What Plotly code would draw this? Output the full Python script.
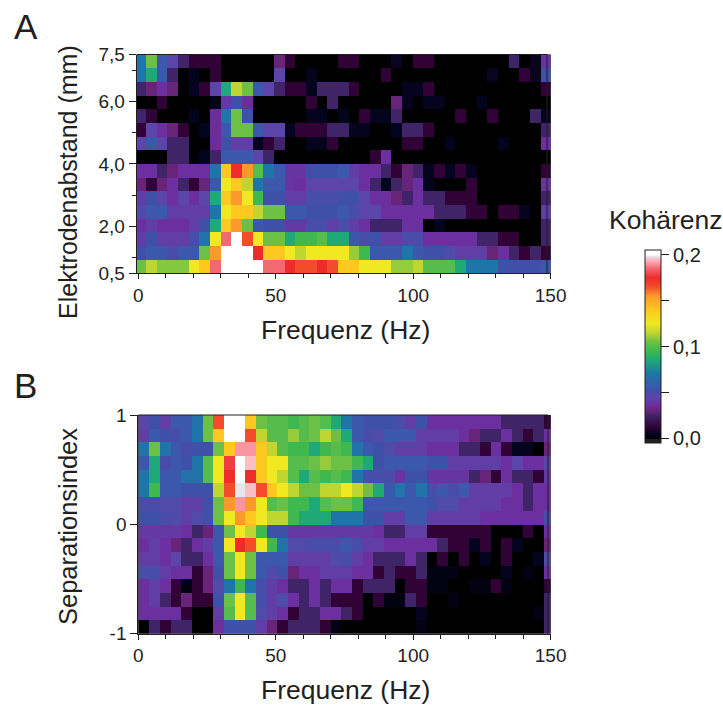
import plotly.graph_objects as go
from plotly.subplots import make_subplots

W, H = 723, 705
INK = "#231f20"
FONT = "Liberation Sans, Arial, sans-serif"

# Coherence x 1000, rows listed from top to bottom, columns from low to high frequency
panel_a = [
 [70,105,55,45,25,12,12,12,0,0,0,0,0,30,12,0,0,0,0,12,12,0,0,0,6,0,12,12,0,0,0,0,0,0,0,25,0,6,38],
 [70,85,55,25,0,5,0,12,0,0,0,0,0,45,0,0,5,0,0,0,0,0,0,12,0,0,0,0,0,0,0,0,0,6,0,0,12,6,52],
 [25,30,36,30,0,5,12,45,85,115,105,55,45,25,12,12,5,25,25,25,12,0,0,0,0,5,5,12,0,0,0,0,0,0,0,0,0,0,12],
 [0,0,12,0,0,0,0,5,40,52,35,0,0,0,0,0,12,0,25,0,0,0,0,0,30,5,0,5,5,0,0,0,5,0,0,0,0,0,0],
 [25,12,0,0,0,5,0,35,70,105,52,0,0,0,0,0,5,5,0,5,0,12,5,5,25,0,0,0,0,0,12,0,0,12,0,0,0,25,5],
 [12,45,36,30,12,0,5,35,55,105,105,55,45,45,5,12,12,12,25,25,5,5,0,0,5,25,25,12,0,0,0,0,0,0,0,0,0,0,25],
 [45,55,45,25,25,0,0,35,52,42,42,5,12,25,0,0,5,5,12,0,0,0,0,0,0,12,12,0,0,5,0,0,0,0,5,0,0,0,36],
 [0,0,0,25,25,0,5,25,55,55,55,45,25,0,0,0,0,0,0,0,0,0,12,36,0,0,0,0,0,0,0,0,0,0,0,0,0,0,0],
 [36,36,25,30,36,36,36,70,140,175,155,100,70,55,38,38,52,52,52,55,42,36,36,25,12,30,25,5,12,5,12,5,0,0,0,0,0,0,12],
 [30,12,30,36,25,12,30,55,125,140,115,70,55,55,38,36,45,45,45,45,45,36,25,5,25,30,36,5,0,0,0,12,0,0,0,0,0,0,38],
 [42,52,45,36,45,36,45,85,140,155,125,95,52,52,42,42,50,50,50,52,52,45,36,36,30,25,36,25,25,12,12,12,0,0,0,0,0,0,25],
 [48,55,55,42,42,42,42,70,125,140,140,115,105,105,55,55,52,52,52,55,50,45,45,36,36,36,36,36,25,25,25,12,12,0,12,12,5,0,42],
 [36,42,36,36,36,42,52,85,140,155,105,55,52,52,40,40,50,50,42,50,42,36,25,25,25,36,36,0,5,0,0,0,0,0,0,0,0,0,25],
 [42,52,42,42,42,50,70,125,185,200,165,125,105,105,85,95,95,100,85,85,55,50,52,42,42,50,50,36,36,36,36,36,25,25,12,12,0,0,25],
 [52,55,55,50,55,55,105,155,200,200,200,175,140,140,125,115,125,125,125,125,110,95,55,55,55,70,55,52,52,48,42,42,42,30,36,25,12,25,12],
 [105,115,108,108,108,125,140,185,200,200,200,200,185,185,175,165,165,175,165,140,140,125,125,125,110,110,115,100,100,100,85,70,70,70,52,52,52,52,55],
]
panel_b = [
 [45,52,42,55,55,68,105,165,200,200,140,105,100,100,95,100,105,100,85,70,55,52,52,52,50,42,52,36,36,36,36,36,36,36,25,25,25,25,12],
 [42,55,52,50,55,70,105,140,200,200,165,115,100,100,110,100,105,115,105,85,55,50,48,55,55,55,42,42,42,42,36,30,25,25,36,25,12,25,36],
 [70,105,70,55,50,52,52,105,140,190,190,140,115,100,95,95,85,95,100,95,70,55,52,48,42,42,42,36,36,36,25,25,12,36,12,5,5,0,30],
 [55,85,50,55,52,70,100,125,178,200,195,140,125,125,100,100,105,110,105,105,95,85,52,55,55,55,55,52,52,42,42,42,42,42,36,45,36,36,45],
 [70,85,55,55,68,68,100,125,175,200,175,140,125,115,100,85,100,95,100,95,70,50,50,50,38,52,52,38,38,38,38,25,30,12,36,25,25,12,40],
 [70,95,55,55,52,52,52,115,165,198,195,165,140,125,115,105,105,115,115,125,115,105,85,55,70,55,70,50,55,50,55,42,42,42,42,36,25,36,36],
 [50,50,48,48,42,42,52,105,155,190,155,125,100,105,95,95,85,100,105,105,95,55,55,55,55,55,55,52,48,48,42,42,42,42,36,36,25,36,36],
 [52,52,50,48,42,48,52,105,125,155,140,125,115,115,95,85,85,85,70,70,70,52,52,42,42,55,55,42,42,42,42,42,36,36,36,36,36,36,50],
 [40,40,40,40,36,25,30,55,105,125,115,95,52,52,40,40,40,40,40,40,40,40,36,25,25,42,42,12,12,12,12,12,12,0,0,0,12,0,36],
 [36,42,36,30,25,36,42,55,125,175,165,125,95,70,48,48,50,50,50,55,50,42,42,36,36,36,36,36,25,12,12,5,12,0,12,5,0,0,30],
 [42,42,36,45,25,25,36,55,105,125,105,55,55,55,42,42,42,42,48,50,42,36,25,25,25,36,25,0,12,0,12,0,5,0,12,0,0,5,48],
 [50,50,42,36,36,12,30,52,105,125,105,55,48,52,30,36,36,42,42,42,36,36,12,25,12,12,25,3,3,3,0,0,0,0,5,0,3,0,36],
 [36,42,36,12,3,12,30,48,70,95,70,50,42,36,25,25,36,25,36,36,12,25,25,25,0,12,12,3,3,0,0,3,3,12,3,0,0,0,12],
 [36,42,25,12,30,12,12,52,105,125,100,50,42,48,36,25,36,25,12,12,12,0,12,3,3,25,12,0,0,3,0,0,0,0,0,0,0,0,25],
 [36,36,36,36,12,0,0,42,100,125,100,48,42,36,12,25,25,36,36,25,12,0,0,0,0,0,5,0,0,0,0,0,0,0,0,0,0,3,25],
 [0,25,12,25,25,0,0,36,52,52,52,42,30,12,25,25,25,12,3,0,0,0,0,0,0,0,3,0,0,0,0,0,0,0,0,0,0,0,25],
]
freq_ticks = [0, 50, 100, 150]
freq_minor = [10, 20, 30, 40, 60, 70, 80, 90, 110, 120, 130, 140]
dist_ticks = [0.5, 2, 4, 6, 7.5]
dist_labels = ["0,5", "2,0", "4,0", "6,0", "7,5"]
dist_minor = [1, 3, 5, 7]
sep_ticks = [-1, 0, 1]
scale_ticks = [0, 50, 100, 150, 200]
scale_labels = ["0,0", "", "0,1", "", "0,2"]
color_stops = [
 (-5, "#231f20"), (-1, "#231f20"), (0, "#000000"), (5, "#04041e"), (12, "#300236"),
 (25, "#3f2468"), (30, "#682478"), (36, "#6b2fa0"), (45, "#5c45a8"), (52, "#3f50a8"),
 (55, "#3b58ac"), (70, "#1f75a8"), (85, "#1fa878"), (95, "#3fb850"), (105, "#6cc045"),
 (115, "#c0d630"), (125, "#f0e820"), (140, "#ffc820"), (155, "#fb9a2a"), (165, "#f24c2c"),
 (175, "#ee2c2c"), (185, "#f4686f"), (190, "#f8959f"), (195, "#fabfc5"), (198, "#e8e8ec"),
 (200, "#ffffff"), (205, "#ffffff"),
]
cmin, cmax = -5, 205
colorscale = [[(v - cmin) / (cmax - cmin), c] for v, c in color_stops]

for r in panel_a + panel_b:
    assert len(r) == 39

fig = make_subplots(rows=2, cols=1)
fig.add_trace(go.Heatmap(z=panel_a[::-1], x0=0.85, dx=3.88, y0=0.5 + 7 / 32, dy=7 / 16,
                         coloraxis="coloraxis", hovertemplate="%{x:.0f} Hz, %{y:.1f} mm: %{z}<extra></extra>"), 1, 1)
fig.add_trace(go.Heatmap(z=panel_b[::-1], x0=2.07, dx=3.88, y0=-1 + 1 / 16, dy=1 / 8,
                         coloraxis="coloraxis", hovertemplate="%{x:.0f} Hz, %{y:.2f}: %{z}<extra></extra>"), 2, 1)

tickfont = dict(family=FONT, size=19, color=INK)
minor_x = dict(tickmode="array", tickvals=freq_minor, ticklen=4, tickcolor=INK, ticks="outside", tickwidth=1)
common_x = dict(tickmode="array", tickvals=freq_ticks, ticks="outside", ticklen=5, tickwidth=1, tickcolor=INK,
                tickfont=tickfont, showline=True, linecolor=INK, linewidth=1, showgrid=False, zeroline=False,
                automargin=False, minor=minor_x)
common_y = dict(tickmode="array", ticks="outside", ticklen=7, tickwidth=1, tickcolor=INK, tickfont=tickfont,
                showline=True, linecolor=INK, linewidth=1, showgrid=False, zeroline=False, automargin=False)

fig.update_xaxes(common_x)
fig.update_yaxes(common_y)
fig.update_xaxes(domain=[136.7 / W, 550.6 / W], range=[-0.58, 150], row=1, col=1)
fig.update_xaxes(domain=[138.3 / W, 550.6 / W], range=[0, 150], row=2, col=1)
fig.update_yaxes(domain=[1 - 273.3 / H, 1 - 54.5 / H], range=[0.5, 7.5], tickvals=dist_ticks, ticktext=dist_labels,
                 minor=dict(tickmode="array", tickvals=dist_minor, ticklen=4, tickcolor=INK, ticks="outside", tickwidth=1),
                 row=1, col=1)
fig.update_yaxes(domain=[1 - 633.5 / H, 1 - 415 / H], range=[-1, 1], tickvals=sep_ticks, ticktext=["-1", "0", "1"],
                 row=2, col=1)


def note(text, x, y, size, angle=0):
    return dict(text=text, xref="paper", yref="paper", x=x / W, y=1 - y / H, showarrow=False, textangle=angle,
                xanchor="center", yanchor="middle", font=dict(family=FONT, size=size, color=INK))


def frame(x0, y0, x1, y1):
    return dict(type="line", xref="paper", yref="paper", x0=x0 / W, x1=x1 / W, y0=1 - y0 / H, y1=1 - y1 / H,
                line=dict(color=INK, width=1))


fig.update_layout(
    width=W, height=H, autosize=False, margin=dict(l=0, r=0, t=0, b=0),
    paper_bgcolor="white", plot_bgcolor="black", showlegend=False,
    font=dict(family=FONT, color=INK),
    coloraxis=dict(
        colorscale=colorscale, cmin=cmin, cmax=cmax,
        colorbar=dict(lenmode="pixels", len=193, thicknessmode="pixels", thickness=16,
                      x=645 / W, xanchor="left", xpad=0, y=1 - 250 / H, yanchor="top", ypad=0,
                      outlinecolor=INK, outlinewidth=1,
                      tickmode="array", tickvals=scale_ticks, ticktext=scale_labels,
                      ticks="outside", ticklen=8, tickwidth=1, tickcolor=INK,
                      tickfont=dict(family=FONT, size=20, color=INK)),
    ),
    annotations=[
        note("A", 26, 26, 35), note("B", 25, 385, 35),
        note("Elektrodenabstand (mm)", 68, 182, 25, -90),
        note("Separationsindex", 68, 527, 25.5, -90),
        note("Frequenz (Hz)", 345, 330, 26.5),
        note("Frequenz (Hz)", 345, 690, 26.5),
        note("Kohärenz", 665, 220, 26.5),
    ],
    shapes=[frame(136.7, 54.5, 547, 54.5), frame(547, 54.5, 547, 273.3),
            frame(138.3, 415, 548, 415), frame(548, 415, 548, 633.5),
            frame(645, 254, 661, 254)],
)
fig.write_html("out.html", config={"displayModeBar": False},
               post_script="document.body.style.margin='0';document.documentElement.style.overflow='hidden';")
